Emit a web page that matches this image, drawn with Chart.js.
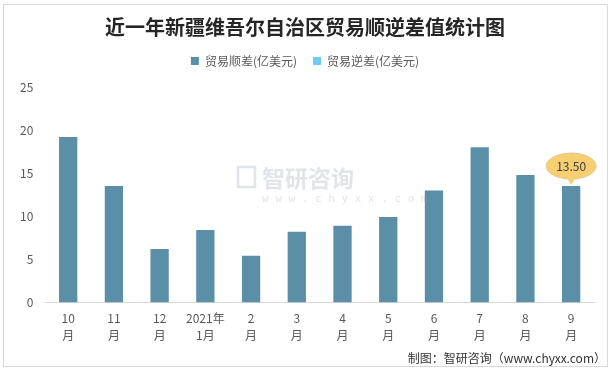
<!DOCTYPE html>
<html>
<head>
<meta charset="utf-8">
<script src="https://cdn.jsdelivr.net/npm/chart.js@4/dist/chart.umd.min.js"></script>
<style>
  html, body { margin: 0; padding: 0; background: #fff; }
  #wrap { width: 614px; height: 371px; position: relative; }
</style>
</head>
<body>
<div id="wrap"><canvas id="tradeChart"></canvas></div>
<script>
// data
const months = [['10', '月'], ['11', '月'], ['12', '月'], ['2021年', '1月'], ['2', '月'], ['3', '月'],
  ['4', '月'], ['5', '月'], ['6', '月'], ['7', '月'], ['8', '月'], ['9', '月']];
const surplus = [19.2, 13.5, 6.2, 8.4, 5.4, 8.2, 8.9, 9.9, 13.0, 18.0, 14.8, 13.5];
const deficit = [];
const yTicks = [0, 5, 10, 15, 20, 25];

const cjk = '"Noto Sans CJK SC", "Microsoft YaHei", sans-serif';

// outer frame, watermark and footer
const decorPlugin = {
  id: 'decor',
  beforeInit(chart) {
    // push the plot a bit below the legend
    const fit = chart.legend.fit;
    chart.legend.fit = function() {
      fit.bind(chart.legend)();
      this.height += 10;
    };
  },
  beforeDraw(chart) {
    const ctx = chart.ctx;
    ctx.save();
    ctx.fillStyle = '#fff';
    ctx.fillRect(0, 0, chart.width, chart.height);
    ctx.strokeStyle = '#d9d9d9';
    ctx.lineWidth = 1;
    ctx.strokeRect(3.5, 4.5, 604, 362);
    ctx.restore();
  },
  afterDatasetsDraw(chart) {
    const ctx = chart.ctx;
    ctx.save();
    // watermark
    ctx.globalAlpha = 0.3;
    ctx.strokeStyle = '#9aa7b3';
    ctx.lineWidth = 2.5;
    ctx.strokeRect(238, 167, 17, 20);
    ctx.fillStyle = '#9aa7b3';
    ctx.font = 'bold 23px ' + cjk;
    ctx.textBaseline = 'middle';
    ctx.fillText('智研咨询', 262, 178);
    ctx.font = '11px "DejaVu Sans Mono", monospace';
    ctx.fillText('w w w . c h y x x . c o m', 262, 199);
    ctx.globalAlpha = 1;
    // footer
    ctx.fillStyle = '#333';
    ctx.font = '12px ' + cjk;
    ctx.textAlign = 'right';
    ctx.fillText('制图：智研咨询（www.chyxx.com）', 606, 358);
    ctx.restore();
  }
};

// yellow callout on the last bar
const calloutPlugin = {
  id: 'callout',
  afterDatasetsDraw(chart) {
    const meta = chart.getDatasetMeta(0);
    const last = meta.data.length - 1;
    const bar = meta.data[last];
    const val = surplus[last];
    const ctx = chart.ctx;
    const cx = bar.x, cy = bar.y - 20;
    ctx.save();
    ctx.fillStyle = '#f6cf72';
    ctx.strokeStyle = '#e2c992';
    ctx.lineWidth = 1;
    ctx.beginPath();
    ctx.ellipse(cx, cy, 25, 13, 0, 0, Math.PI * 2);
    ctx.fill();
    ctx.stroke();
    ctx.beginPath();
    ctx.moveTo(cx - 5, cy + 11);
    ctx.lineTo(cx, bar.y - 1);
    ctx.lineTo(cx + 5, cy + 11);
    ctx.closePath();
    ctx.fill();
    ctx.fillStyle = '#404040';
    ctx.font = '12px ' + cjk;
    ctx.textAlign = 'center';
    ctx.textBaseline = 'middle';
    ctx.fillText(val.toFixed(2), cx, cy);
    ctx.restore();
  }
};

new Chart(document.getElementById('tradeChart'), {
  type: 'bar',
  data: {
    labels: months,
    datasets: [
      { label: '贸易顺差(亿美元)', data: surplus, backgroundColor: '#5b8fa8', grouped: false,
        barPercentage: 0.4, categoryPercentage: 1 },
      { label: '贸易逆差(亿美元)', data: deficit, backgroundColor: '#6fcbf0', grouped: false,
        barPercentage: 0.4, categoryPercentage: 1 }
    ]
  },
  options: {
    responsive: true,
    maintainAspectRatio: false,
    animation: false,
    layout: { padding: { left: 16, right: 20, top: 13, bottom: 27 } },
    plugins: {
      title: {
        display: true,
        text: '近一年新疆维吾尔自治区贸易顺逆差值统计图',
        color: '#262626',
        font: { family: cjk, size: 20, weight: 'bold' },
        padding: { top: 2, bottom: 0 }
      },
      legend: {
        labels: {
          color: '#595959',
          font: { family: cjk, size: 12 },
          boxWidth: 8,
          boxHeight: 8,
          padding: 16
        }
      },
      tooltip: { enabled: false }
    },
    scales: {
      x: {
        grid: { display: false },
        border: { color: '#d9d9d9' },
        ticks: { color: '#595959', font: { family: cjk, size: 12, lineHeight: 1.4 }, padding: 0,
          maxRotation: 0, autoSkip: false }
      },
      y: {
        min: 0,
        max: 25,
        afterBuildTicks(axis) { axis.ticks = yTicks.map(v => ({ value: v })); },
        grid: { display: false },
        border: { display: false },
        ticks: { color: '#595959', font: { family: cjk, size: 12 }, padding: 4 }
      }
    }
  },
  plugins: [decorPlugin, calloutPlugin]
});
</script>
</body>
</html>
